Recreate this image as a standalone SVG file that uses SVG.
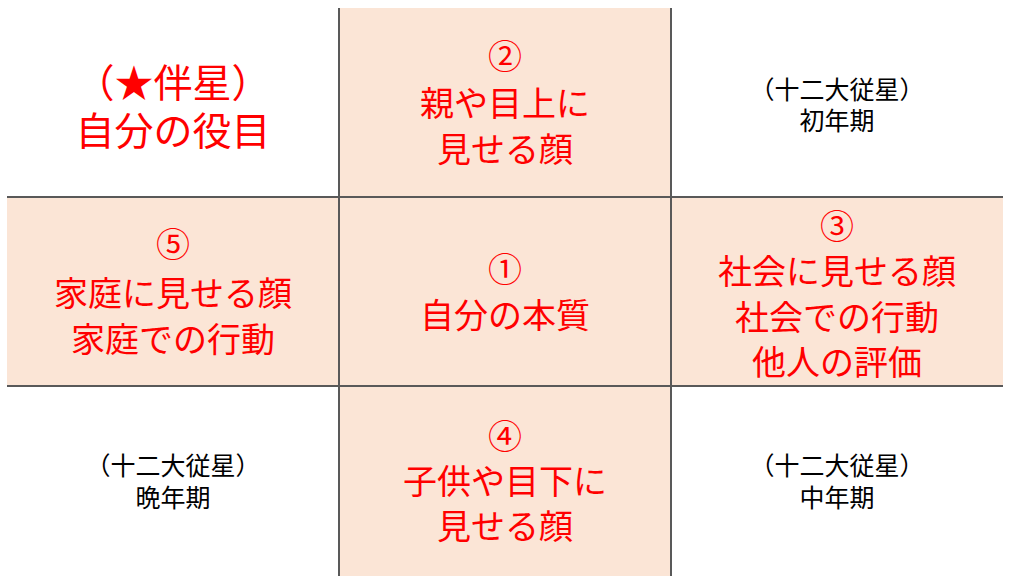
<svg xmlns="http://www.w3.org/2000/svg" width="1012" height="584" viewBox="0 0 1012 584">
<style>
.bg{fill:#FBE5D6;stroke:none}
.ln{stroke:#595959;stroke-width:2;fill:none}
.red{fill:#FF0000;font-family:"Noto Sans CJK JP","Noto Sans CJK SC",sans-serif;font-size:34px;text-anchor:middle}
.big{font-size:39px}
.blk{fill:#000000;font-family:"Noto Sans CJK JP","Noto Sans CJK SC",sans-serif;font-size:25px;text-anchor:middle}
</style>
<rect width="1012" height="584" fill="#FFFFFF"/>
<g id="shading">
<rect class="bg" x="339" y="8" width="332" height="568"/>
<rect class="bg" x="7" y="197" width="996" height="189"/>
</g>
<g id="grid-lines">
<line class="ln" x1="339" y1="8" x2="339" y2="576"/>
<line class="ln" x1="671" y1="8" x2="671" y2="576"/>
<line class="ln" x1="7" y1="197" x2="1003" y2="197"/>
<line class="ln" x1="7" y1="386" x2="1003" y2="386"/>
</g>
<g id="cell-companion">
<text class="red big" x="173" y="97">（★伴星）</text>
<text class="red big" x="173" y="145">自分の役目</text>
</g>
<g id="cell-2">
<text class="red" x="505" y="69">②</text>
<text class="red" x="505" y="116">親や目上に</text>
<text class="red" x="505" y="162">見せる顔</text>
</g>
<g id="cell-early">
<text class="blk" x="837" y="99">（十二大従星）</text>
<text class="blk" x="837" y="130">初年期</text>
</g>
<g id="cell-5">
<text class="red" x="173" y="257">⑤</text>
<text class="red" x="173" y="306">家庭に見せる顔</text>
<text class="red" x="173" y="352">家庭での行動</text>
</g>
<g id="cell-1">
<text class="red" x="505" y="282">①</text>
<text class="red" x="505" y="328">自分の本質</text>
</g>
<g id="cell-3">
<text class="red" x="837" y="239">③</text>
<text class="red" x="837" y="284">社会に見せる顔</text>
<text class="red" x="837" y="330">社会での行動</text>
<text class="red" x="837" y="375">他人の評価</text>
</g>
<g id="cell-late">
<text class="blk" x="173" y="475">（十二大従星）</text>
<text class="blk" x="173" y="507">晩年期</text>
</g>
<g id="cell-4">
<text class="red" x="505" y="449">④</text>
<text class="red" x="505" y="494">子供や目下に</text>
<text class="red" x="505" y="539">見せる顔</text>
</g>
<g id="cell-middle">
<text class="blk" x="837" y="475">（十二大従星）</text>
<text class="blk" x="837" y="507">中年期</text>
</g>
</svg>
